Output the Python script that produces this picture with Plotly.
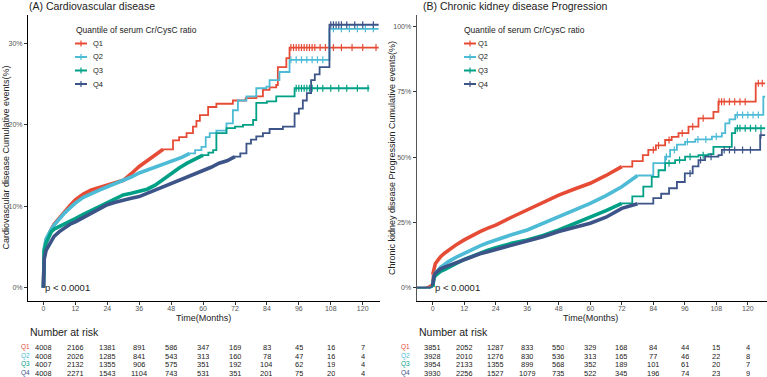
import plotly.graph_objects as go

W, H = 767, 377
FONT = "Liberation Sans, Arial, sans-serif"

groups = ["Q1", "Q2", "Q3", "Q4"]
colors = ["#E64B35", "#4DBBD5", "#00A087", "#3C5488"]
legend_title = "Quantile of serum Cr/CysC ratio"
time_ticks = [0, 12, 24, 36, 48, 60, 72, 84, 96, 108, 120]
cvd_yticks = [0, 10, 20, 30]
cvd_ylabels = ["0%", "10%", "20%", "30%"]
ckd_yticks = [0, 25, 50, 75, 100]
ckd_ylabels = ["0%", "25%", "50%", "75%", "100%"]

# ---- Panel A: Cardiovascular disease (cumulative events, %) ----
cvd_t = {
    "Q1": [0, 0.3, 1, 2, 3, 4, 6, 8, 10, 12, 15, 18, 21, 24, 27, 30, 33, 36, 39, 42, 45, 48.7, 51, 53.8, 56.2,
           57.5, 58.8, 61.9, 65, 71.2, 76, 80, 82.5, 85, 87.5, 88.1, 91.3, 92.5, 100, 110, 120, 126],
    "Q2": [0, 0.3, 1, 2, 3, 4, 6, 8, 10, 12, 15, 18, 21, 24, 27, 30, 33, 36, 40, 44, 48, 52, 55, 57, 59.4,
           61, 62.5, 65, 68.8, 71.2, 73.1, 76.3, 80, 83.8, 85, 88.7, 92.5, 100, 107, 107.5, 115, 126],
    "Q3": [0, 0.3, 1, 2, 3, 4, 6, 8, 10, 12, 15, 18, 21, 24, 27, 30, 33, 36, 39, 42, 45, 48, 51, 54, 57,
           60, 62, 63.8, 65, 68.8, 72, 75, 78.8, 80, 84, 87.5, 90, 94.4, 100, 110, 122.5],
    "Q4": [0, 0.3, 1, 2, 3, 4, 6, 8, 10, 12, 15, 18, 21, 24, 27, 30, 33, 36, 39, 42, 45, 48, 51, 54, 57,
           60, 63, 66, 69, 72, 74, 76.3, 78, 80, 82.5, 85, 90, 93.7, 94.4, 96, 97.5, 99, 100.6, 102, 103.8,
           107.5, 115, 126],
}
cvd_v = {
    "Q1": [0, 4.5, 5.8, 6.6, 7.2, 7.8, 8.6, 9.4, 10.1, 10.8, 11.5, 12.0, 12.3, 12.6, 12.9, 13.2, 14.0, 14.9,
           15.6, 16.3, 17.0, 18.1, 18.5, 19.0, 19.8, 20.5, 21.2, 22.2, 22.6, 23.0, 23.3, 23.5, 24.3, 24.6, 24.9,
           27.1, 28.2, 29.5, 29.5, 29.5, 29.5, 29.5],
    "Q2": [0, 4.8, 6.0, 6.7, 7.2, 7.7, 8.5, 9.2, 9.8, 10.4, 11.1, 11.6, 12.0, 12.4, 12.8, 13.1, 13.6, 14.1,
           14.6, 15.0, 15.5, 16.0, 16.5, 16.9, 17.3, 18.5, 19.0, 19.3, 20.2, 21.8, 23.0, 23.5, 24.5, 24.7, 25.5,
           26.5, 28.0, 28.0, 28.0, 31.8, 31.8, 31.8],
    "Q3": [0, 4.5, 5.5, 6.3, 6.9, 7.2, 7.5, 7.8, 8.1, 8.5, 9.0, 9.5, 10.0, 10.4, 10.9, 11.4, 11.6, 11.8, 12.1,
           12.6, 13.3, 14.1, 14.7, 15.3, 15.8, 16.3, 16.6, 16.9, 19.0, 19.6, 19.8, 20.0, 20.6, 22.7, 22.9, 23.5,
           23.5, 24.5, 24.5, 24.5, 24.5],
    "Q4": [0, 3.5, 4.6, 5.2, 5.9, 6.3, 6.9, 7.4, 7.8, 8.1, 8.6, 9.1, 9.6, 10.2, 10.5, 10.8, 11.0, 11.2, 11.6,
           12.0, 12.4, 12.8, 13.2, 13.6, 13.9, 14.3, 14.8, 15.3, 15.6, 16.1, 16.5, 17.7, 18.2, 18.6, 19.0, 19.5,
           19.8, 19.8, 21.4, 22.0, 23.0, 23.9, 25.5, 26.2, 27.1, 32.3, 32.3, 32.3],
}
cvd_censor = {
    "Q1": [93, 94, 95, 96, 97, 98, 99, 100, 101, 102, 104, 106, 109, 112, 116, 120, 125],
    "Q2": [93, 95, 97, 99, 101, 103, 105, 109, 112, 115, 118, 121, 124],
    "Q3": [95, 96, 97, 98, 99, 100, 101, 103, 105, 108, 111, 114, 118, 122],
    "Q4": [108, 109, 110, 111, 112, 114, 117, 120, 124],
}

# ---- Panel B: Chronic kidney disease progression (cumulative events, %) ----
ckd_t = {
    "Q1": [-6, -3, -2, -1, -0.3, 0, 0.5, 1, 2, 3, 4.5, 6, 9, 12, 15, 18, 21, 24, 30, 36, 42, 48, 54, 60, 66,
           72, 76, 80, 82.1, 85, 88.5, 91, 93.6, 97.4, 101.2, 105.6, 106.9, 108.8, 115, 123, 126.6],
    "Q2": [-6, -1, 0, 0.5, 1, 2, 3, 4.5, 6, 9, 12, 15, 18, 21, 24, 30, 36, 42, 48, 54, 60, 66, 72, 78, 84,
           88.5, 90.4, 93, 96.1, 100, 106.3, 110.1, 111.4, 113, 115.2, 120, 125.9, 126.6],
    "Q3": [-6, -1, 0, 0.5, 1, 2, 3, 4.5, 6, 9, 12, 15, 18, 21, 24, 30, 36, 42, 48, 54, 60, 66, 72, 76, 80.2,
           83.4, 86, 88.5, 92.3, 96.1, 101.2, 105, 106.9, 110, 113.9, 115.2, 120, 126.6],
    "Q4": [-6, -1, -0.5, 0, 0.5, 1, 2, 3, 4.5, 6, 9, 12, 15, 18, 21, 24, 30, 36, 42, 48, 54, 60, 66, 72, 78,
           84, 87, 90, 93, 96, 99, 101.2, 103.7, 108.8, 110.1, 115, 120, 124.7, 126.6],
}
ckd_v = {
    "Q1": [0, 0, 0.3, 0.8, 1.5, 5, 8.0, 9.2, 10.6, 11.9, 13.2, 14.4, 16.5, 18.3, 20.0, 21.5, 22.8, 24.0, 27.0,
           29.8, 32.7, 35.5, 37.8, 40.0, 43.0, 46.4, 48.5, 50.8, 52.8, 54.5, 56.6, 57.8, 59.2, 61.7, 64.9, 64.9,
           67.4, 71.3, 71.3, 78.3, 78.3],
    "Q2": [0, 0, 0.5, 4.5, 5.5, 6.8, 7.8, 8.9, 10.0, 11.7, 13.2, 14.7, 16.0, 17.2, 18.3, 20.3, 22.1, 24.6,
           27.2, 29.8, 32.3, 35.3, 38.7, 43.0, 47.7, 50.2, 52.8, 54.8, 55.9, 56.8, 57.9, 59.2, 63.0, 64.5, 66.2,
           66.2, 73.2, 73.2],
    "Q3": [0, 0, 0.3, 3.8, 4.6, 5.6, 6.3, 6.9, 7.6, 9.3, 10.8, 12.1, 13.3, 14.4, 15.3, 17.0, 18.3, 20.0, 22.1,
           24.5, 27.2, 29.5, 32.3, 35.0, 38.7, 42.5, 45.0, 47.7, 48.9, 50.2, 50.8, 51.2, 54.0, 54.0, 59.2, 61.1,
           61.1, 61.1],
    "Q4": [0, 0, 0.3, 1.0, 4.5, 5.5, 6.5, 7.2, 7.9, 8.5, 9.6, 10.6, 11.9, 13.0, 13.8, 14.6, 16.1, 17.6, 19.5,
           21.5, 23.1, 24.7, 27.0, 30.4, 32.2, 34.3, 36.0, 38.1, 40.5, 43.8, 46.5, 48.9, 50.2, 50.8, 52.8, 52.8,
           52.8, 58.5, 58.5],
}
ckd_censor = {
    "Q1": [84, 86, 90, 95, 99, 103, 109, 110, 111, 113, 115, 117, 119, 124, 125.5],
    "Q2": [89, 92, 97, 101, 104, 108, 116, 118, 120, 122, 124],
    "Q3": [90, 94, 98, 103, 116, 117, 119, 121, 123, 125],
    "Q4": [98, 102, 106, 111, 113, 115, 118, 121, 125],
}

# ---- Numbers at risk ----
risk_a = {
    "Q1": [4008, 2166, 1381, 891, 586, 347, 169, 83, 45, 16, 7],
    "Q2": [4008, 2026, 1285, 841, 543, 313, 160, 78, 47, 16, 4],
    "Q3": [4007, 2132, 1355, 906, 575, 351, 192, 104, 62, 19, 4],
    "Q4": [4008, 2271, 1543, 1104, 743, 531, 351, 201, 75, 20, 4],
}
risk_b = {
    "Q1": [3851, 2052, 1287, 833, 550, 329, 168, 84, 44, 15, 4],
    "Q2": [3928, 2010, 1276, 830, 536, 313, 165, 77, 46, 22, 8],
    "Q3": [3954, 2133, 1355, 899, 568, 352, 189, 101, 61, 20, 7],
    "Q4": [3930, 2256, 1527, 1079, 735, 522, 345, 196, 74, 23, 9],
}

# style: time after which individual steps become visible (drawn as steps)
cvd_step_from = {"Q1": 45, "Q2": 55, "Q3": 60, "Q4": 72}
ckd_step_from = {"Q1": 72, "Q2": 78, "Q3": 72, "Q4": 78}


def py(px):
    return 1 - px / H


def px_x(px):
    return px / W


def step_value(ts, vs, t):
    val = vs[0]
    for a, b in zip(ts, vs):
        if a <= t:
            val = b
    return val


fig = go.Figure()

for tt, vv, cens, cut, xa, ya in [(cvd_t, cvd_v, cvd_censor, cvd_step_from, "x", "y"),
                                  (ckd_t, ckd_v, ckd_censor, ckd_step_from, "x2", "y2")]:
    for g, c in zip(groups, colors):
        ts, vs = tt[g], vv[g]
        pre = [i for i, t in enumerate(ts) if t <= 0]
        early = [i for i, t in enumerate(ts) if 0 <= t <= cut[g]]
        late = [i for i, t in enumerate(ts) if t >= cut[g]]
        if len(pre) > 1:
            fig.add_trace(go.Scatter(
                x=[ts[i] for i in pre], y=[vs[i] for i in pre], mode="lines", xaxis=xa, yaxis=ya,
                line=dict(color=c, width=1.8), showlegend=False, hoverinfo="skip"))
        fig.add_trace(go.Scatter(
            x=[ts[i] for i in early], y=[vs[i] for i in early], mode="lines", xaxis=xa, yaxis=ya,
            line=dict(color=c, width=3.6), showlegend=False, hoverinfo="skip"))
        fig.add_trace(go.Scatter(
            x=[ts[i] for i in late], y=[vs[i] for i in late], mode="lines", xaxis=xa, yaxis=ya,
            line=dict(color=c, width=1.8, shape="hv"), showlegend=False, hoverinfo="skip"))
        fig.add_trace(go.Scatter(
            x=cens[g], y=[step_value(ts, vs, t) for t in cens[g]], mode="markers", xaxis=xa, yaxis=ya,
            marker=dict(symbol="line-ns", size=5, color=c, line=dict(color=c, width=1.2)),
            showlegend=False, hoverinfo="skip"))

axis_common = dict(showgrid=False, zeroline=False, showline=True, linecolor="#000000", linewidth=1,
                   ticks="outside", ticklen=3, tickcolor="#333333",
                   tickfont=dict(family=FONT, size=7, color="#555555"))

fig.update_layout(
    width=W, height=H, margin=dict(l=0, r=0, t=0, b=0),
    paper_bgcolor="white", plot_bgcolor="white",
    font=dict(family=FONT), showlegend=False,
    xaxis=dict(domain=[px_x(28), px_x(380)], range=[-5.8, 126.5], tickvals=time_ticks, anchor="y",
               ticklabelstandoff=-2, **axis_common),
    yaxis=dict(domain=[py(301), py(15)], range=[-1.63, 33.5], tickvals=cvd_yticks, ticktext=cvd_ylabels,
               anchor="x", **axis_common),
    xaxis2=dict(domain=[px_x(416.7), 1.0], range=[-6.1, 127.3], tickvals=time_ticks, anchor="y2",
                ticklabelstandoff=-2, **axis_common),
    yaxis2=dict(domain=[py(301), py(15)], range=[-5.1, 104.5], tickvals=ckd_yticks, ticktext=ckd_ylabels,
                anchor="x2", **axis_common),
)
fig.update_layout(yaxis2_linecolor="#555555", yaxis2_linewidth=1.2)

ann = []
shapes = []
TXT = "#222222"
# panel titles
ann.append(dict(text="(A) Cardiovascular disease", x=px_x(27), y=py(6), xref="paper", yref="paper",
                xanchor="left", yanchor="middle", showarrow=False, font=dict(size=10.5, color=TXT)))
ann.append(dict(text="(B) Chronic kidney disease Progression", x=px_x(421), y=py(6), xref="paper",
                yref="paper", xanchor="left", yanchor="middle", showarrow=False, font=dict(size=10.5, color=TXT)))
# y titles
ann.append(dict(text="Cardiovascular disease Cumulative events(%)", x=px_x(5.5), y=py(158), xref="paper",
                yref="paper", xanchor="center", yanchor="middle", textangle=-90, showarrow=False,
                font=dict(size=9, color=TXT)))
ann.append(dict(text="Chronic kidney disease Progression Cumulative events(%)", x=px_x(392), y=py(158),
                xref="paper", yref="paper", xanchor="center", yanchor="middle", textangle=-90, showarrow=False,
                font=dict(size=9, color=TXT)))
# x titles + p values
for xr, yr in [("x", "y"), ("x2", "y2")]:
    ann.append(dict(text="Time(Months)", x=60, y=py(317.5), xref=xr, yref="paper", xanchor="center",
                    yanchor="middle", showarrow=False, font=dict(size=9, color=TXT)))
    ann.append(dict(text="p < 0.0001", x=0, y=0, xref=xr, yref=yr, xanchor="left", yanchor="middle",
                    showarrow=False, font=dict(size=9.5, color=TXT)))

# manual legends
leg_rows = [43.5, 57, 70.5, 84]
for title_x, glyph_x0, text_x in [(74, 75, 91), (462, 464, 476)]:
    ann.append(dict(text=legend_title, x=px_x(title_x), y=py(29.5), xref="paper", yref="paper",
                    xanchor="left", yanchor="middle", showarrow=False, font=dict(size=8.5, color=TXT)))
    for g, c, ry in zip(groups, colors, leg_rows):
        shapes.append(dict(type="line", xref="paper", yref="paper", x0=px_x(glyph_x0), x1=px_x(glyph_x0 + 12),
                           y0=py(ry), y1=py(ry), line=dict(color=c, width=2)))
        shapes.append(dict(type="line", xref="paper", yref="paper", x0=px_x(glyph_x0 + 6), x1=px_x(glyph_x0 + 6),
                           y0=py(ry - 3), y1=py(ry + 3), line=dict(color=c, width=1.2)))
        ann.append(dict(text=g, x=px_x(text_x), y=py(ry), xref="paper", yref="paper", xanchor="left",
                        yanchor="middle", showarrow=False, font=dict(size=7.5, color=TXT)))

# risk tables
row_px = [346.8, 355.5, 364.2, 372.9]
for xr, risk, lab_px, nar_px in [("x", risk_a, 25.5, 28), ("x2", risk_b, 405, 417)]:
    ann.append(dict(text="Number at risk", x=px_x(nar_px), y=py(332), xref="paper", yref="paper",
                    xanchor="left", yanchor="middle", showarrow=False, font=dict(size=10.5, color=TXT)))
    for g, c, rp in zip(groups, colors, row_px):
        ann.append(dict(text=g, x=px_x(lab_px), y=py(rp), xref="paper", yref="paper", xanchor="center",
                        yanchor="middle", showarrow=False, font=dict(size=6.5, color=c),
                        height=8, borderpad=0))
        for t, n in zip(time_ticks, risk[g]):
            ann.append(dict(text=str(n), x=t, y=py(rp), xref=xr, yref="paper", xanchor="center",
                            yanchor="middle", showarrow=False, font=dict(size=7.5, color=TXT),
                            height=8, borderpad=0))

fig.update_layout(annotations=ann, shapes=shapes)
fig.write_html("out.html")
